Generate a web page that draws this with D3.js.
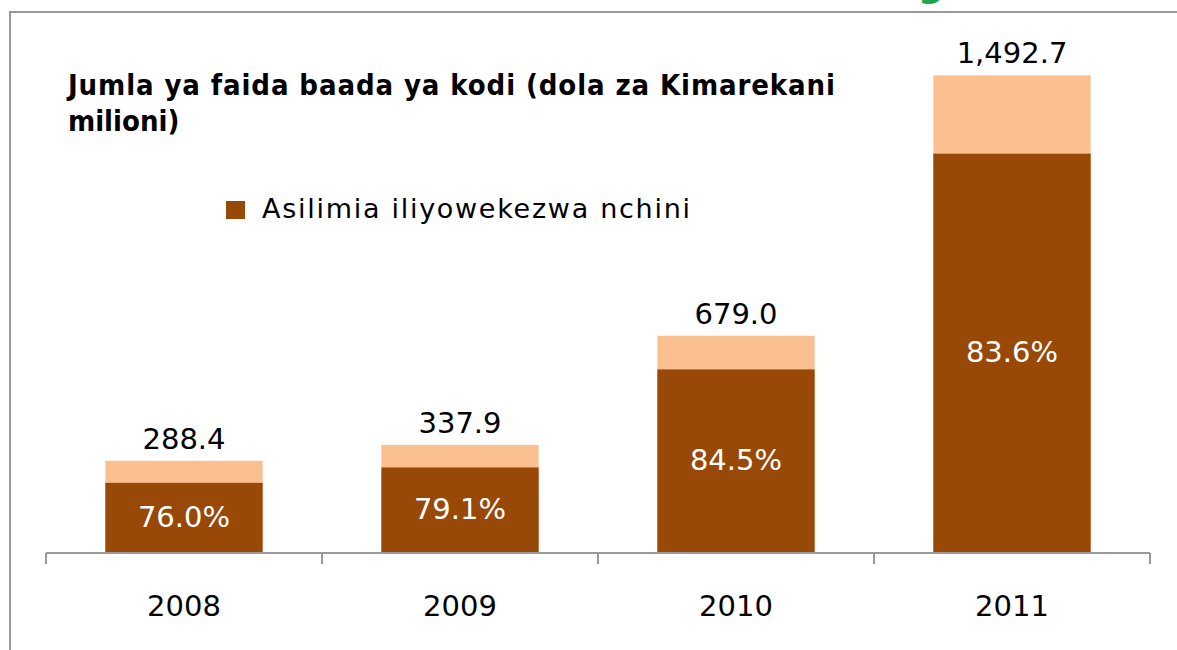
<!DOCTYPE html>
<html>
<head>
<meta charset="utf-8">
<script src="https://cdn.jsdelivr.net/npm/d3@7"></script>
<style>
  body { margin: 0; background: #fff; }
  svg text { font-family: "DejaVu Sans", Verdana, sans-serif; }
  svg text.title { font-family: "DejaVu Sans Condensed", "DejaVu Sans", sans-serif; }
</style>
</head>
<body>
<svg class="chart"></svg>
<script>
const years = ['2008', '2009', '2010', '2011'];
const totals = [288.4, 337.9, 679.0, 1492.7];          // jumla ya faida (USD milioni)
const localShare = [76.0, 79.1, 84.5, 83.6];            // asilimia iliyowekezwa nchini
const totalLabels = ['288.4', '337.9', '679.0', '1,492.7'];

const width = 1177;
const height = 650;
const darkColor = '#984807';
const lightColor = '#FAC090';

const svg = d3.select('svg.chart')
  .attr('width', width)
  .attr('height', height);

//Shrink a text to a target width, or spread it out if it is narrower
function fitText(sel, target) {
  const node = sel.node();
  const size = parseFloat(sel.style('font-size'));
  const len = node.getComputedTextLength();
  if (len > target) sel.style('font-size', (size * target / len) + 'px');
  sel.attr('textLength', target).attr('lengthAdjust', 'spacing');
}

//Frame (left + top edges only visible)
svg.append('path')
  .attr('d', 'M10,650 V12 H1177')
  .attr('fill', 'none')
  .attr('stroke', '#999')
  .attr('stroke-width', 2);

//Cut-off green glyph peeking in at the top
svg.append('text')
  .attr('x', 918)
  .attr('y', -3)
  .attr('fill', '#1aa84b')
  .style('font-weight', 'bold')
  .style('font-size', '36px')
  .text('g');

//Scales
const x = d3.scaleBand()
  .domain(years)
  .range([46, 1150])
  .paddingInner(0.43)
  .paddingOuter(0.215);

const y = d3.scaleLinear()
  .domain([0, 1600])
  .range([553, 41]);

const rows = years.map((yr, i) => ({
  year: yr,
  total: totals[i],
  local: totals[i] * localShare[i] / 100,
  share: localShare[i],
  label: totalLabels[i]
}));

//Light (total) bars
svg.selectAll('.bar-total')
  .data(rows)
  .enter()
  .append('rect')
    .classed('bar-total', true)
    .attr('x', d => x(d.year))
    .attr('width', x.bandwidth())
    .attr('y', d => y(d.total))
    .attr('height', d => y(0) - y(d.total))
    .attr('fill', lightColor);

//Dark (local share) bars
svg.selectAll('.bar-local')
  .data(rows)
  .enter()
  .append('rect')
    .classed('bar-local', true)
    .attr('x', d => x(d.year))
    .attr('width', x.bandwidth())
    .attr('y', d => y(d.local))
    .attr('height', d => y(0) - y(d.local))
    .attr('fill', darkColor);

//Total labels above bars
svg.selectAll('.lbl-total')
  .data(rows)
  .enter()
  .append('text')
    .classed('lbl-total', true)
    .attr('x', d => x(d.year) + x.bandwidth() / 2)
    .attr('y', d => y(d.total) - 12)
    .attr('text-anchor', 'middle')
    .style('font-size', '29px')
    .attr('fill', '#000')
    .text(d => d.label);

//Percent labels inside dark bars
svg.selectAll('.lbl-share')
  .data(rows)
  .enter()
  .append('text')
    .classed('lbl-share', true)
    .attr('x', d => x(d.year) + x.bandwidth() / 2)
    .attr('y', d => (y(d.local) + y(0)) / 2 + 9)
    .attr('text-anchor', 'middle')
    .style('font-size', '29px')
    .attr('fill', '#fff')
    .text(d => d.share.toFixed(1) + '%');

//X axis
const xAxis = svg.append('g')
  .attr('transform', `translate(0,${y(0)})`);

xAxis.append('line')
  .attr('x1', 46).attr('x2', 1150)
  .attr('y1', 0).attr('y2', 0)
  .attr('stroke', '#999')
  .attr('stroke-width', 2);

const tickPos = years.map(yr => x(yr) - x.step() * x.paddingInner() / 2)
  .concat([1150]);

xAxis.selectAll('.tick')
  .data(tickPos)
  .enter()
  .append('line')
    .attr('x1', d => d).attr('x2', d => d)
    .attr('y1', 0).attr('y2', 11)
    .attr('stroke', '#999')
    .attr('stroke-width', 2);

xAxis.selectAll('.year')
  .data(years)
  .enter()
  .append('text')
    .attr('x', d => x(d) + x.bandwidth() / 2)
    .attr('y', 63)
    .attr('text-anchor', 'middle')
    .style('font-size', '29px')
    .attr('fill', '#000')
    .text(d => d);

//Title
const title1 = svg.append('text')
  .classed('title', true)
  .attr('x', 68)
  .attr('y', 95)
  .style('font-size', '29px')
  .style('font-weight', 'bold')
  .attr('fill', '#000')
  .text('Jumla ya faida baada  ya kodi (dola za Kimarekani');
fitText(title1, 767);

svg.append('text')
  .classed('title', true)
  .attr('x', 68)
  .attr('y', 131)
  .style('font-size', title1.style('font-size'))
  .style('font-weight', 'bold')
  .attr('fill', '#000')
  .text('milioni)');

//Legend
svg.append('rect')
  .attr('x', 226).attr('y', 201)
  .attr('width', 19).attr('height', 18)
  .attr('fill', darkColor);

const legendText = svg.append('text')
  .attr('x', 262)
  .attr('y', 218)
  .style('font-size', '27px')
  .attr('fill', '#000')
  .text('Asilimia iliyowekezwa nchini');
fitText(legendText, 428);
</script>
</body>
</html>
